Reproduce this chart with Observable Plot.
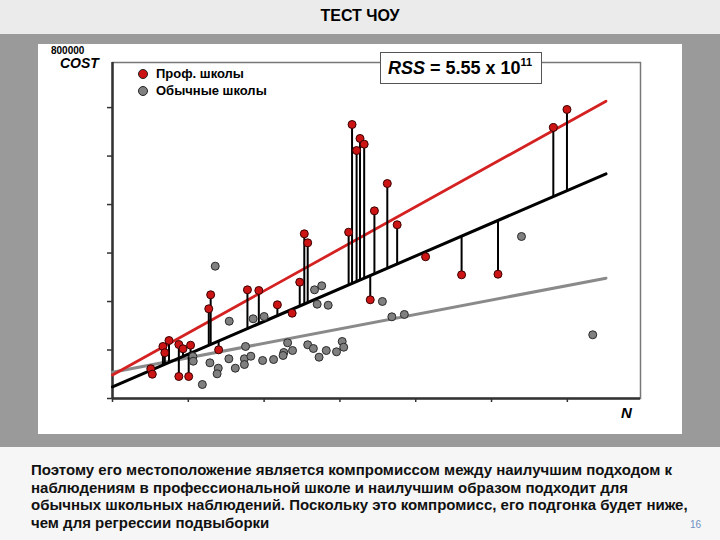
<!DOCTYPE html>
<html>
<head>
<meta charset="utf-8">
<script src="https://cdn.jsdelivr.net/npm/d3@7"></script>
<script src="https://cdn.jsdelivr.net/npm/@observablehq/plot@0.6"></script>
<style>
  html, body { margin: 0; padding: 0; }
  body { width: 720px; height: 540px; position: relative; overflow: hidden; background: #9a9a9a; font-family: "Liberation Sans", Arial, sans-serif; }
  .abs { position: absolute; }
  #titlebar { left: 0; top: 0; width: 720px; height: 34px; background: #ebebeb; text-align: center; font-weight: bold; font-size: 16px; line-height: 31px; color: #000; }
  #panel { left: 38px; top: 44px; width: 644px; height: 390px; background: #fff; }
  #bottom { left: 0; top: 447px; width: 720px; height: 93px; background: #f6f6f6; }
  #caption { left: 31px; top: 461px; width: 680px; font-weight: bold; font-size: 15px; line-height: 17.5px; color: #111; white-space: nowrap; }
  #pagenum { left: 690px; top: 519px; font-size: 10px; color: #6f8fc4; }
  #chart { left: 0; top: 0; }
  .legdot { width: 8px; height: 8px; border-radius: 50%; border: 1px solid #222; }
  .legtxt { font-weight: bold; font-size: 13px; color: #000; }
  #rss { left: 380px; top: 52px; width: 153px; height: 30px; background: #fff; border: 1.5px solid #555; font-weight: bold; font-size: 18px; line-height: 30px; color: #000; padding-left: 7px; box-sizing: content-box; }
  #rss sup { font-size: 11px; vertical-align: 0; position: relative; top: -8px; }
  #ylab { left: 60px; top: 56px; font-weight: bold; font-style: italic; font-size: 14px; line-height: 14px; color: #000; }
  #ytop { left: 51px; top: 46px; font-weight: bold; font-size: 10px; line-height: 10px; color: #000; }
  #xlab { left: 621px; top: 404px; font-weight: bold; font-style: italic; font-size: 15px; color: #000; }
</style>
</head>
<body>
<div id="titlebar" class="abs">ТЕСТ ЧОУ</div>
<div id="panel" class="abs"></div>
<div id="bottom" class="abs"></div>
<div id="chart" class="abs"></div>
<div id="ytop" class="abs">800000</div>
<div id="ylab" class="abs">COST</div>
<div id="xlab" class="abs">N</div>
<div class="abs legdot" style="left:138px;top:69px;background:#cc1414;"></div>
<div class="abs legtxt" style="left:156px;top:66px;">Проф. школы</div>
<div class="abs legdot" style="left:138px;top:86px;background:#808080;"></div>
<div class="abs legtxt" style="left:156px;top:83px;">Обычные школы</div>
<div id="rss" class="abs"><i>RSS</i> = 5.55 x 10<sup>11</sup></div>
<div id="caption" class="abs">Поэтому его местоположение является компромиссом между наилучшим подходом к<br>наблюдениям в профессиональной школе и наилучшим образом подходит для<br>обычных школьных наблюдений. Поскольку это компромисс, его подгонка будет ниже,<br>чем для регрессии подвыборки</div>
<div id="pagenum" class="abs">16</div>
<script>
// Occupational (professional) schools
const redN = [101,105,133,138,149,175,186,206,175,201,280,254,259,356,386,435,474,494,506,515,623,632,644,653,664,680,691,725,751,826,921,1017,1163,1199];
const redCost = [61300,50100,107300,94300,119600,111400,102500,109900,45400,45400,100400,185000,213900,224200,222800,193300,175900,239900,339700,321100,343000,565100,511500,536300,524500,203600,387100,443400,358300,292300,255100,256400,558900,596100];
// Regular schools
const grayN = [212,213,257,279,276,237,307,271,308,371,400,324,351,348,348,365,396,425,452,450,462,475,515,530,545,564,591,606,610,533,552,540,569,712,737,770,1079,1267];
const grayCost = [86600,76900,73600,62500,50900,28900,81900,272900,159400,164400,169100,62500,107300,81900,70100,87200,78400,80400,94900,88700,114900,99000,110800,103100,85200,99000,96300,117600,105800,224200,232400,194500,192400,200100,168500,173300,334100,131400];
// Fitted regression lines (endpoints)
const fitN = [0, 1302];
const profFit = [48500, 613200];
const pooledFit = [24100, 463400];
const regularFit = [54200, 248100];
// Axis ticks
const xTicks = [0, 200, 400, 600, 800, 1000, 1200];
const yTicks = [0, 100000, 200000, 300000, 400000, 500000, 600000];

const red = redN.map((n, i) => ({n, cost: redCost[i]}));
const gray = grayN.map((n, i) => ({n, cost: grayCost[i]}));
const line = (ys) => fitN.map((n, i) => ({n, cost: ys[i]}));
const pooledAt = n => pooledFit[0] + (pooledFit[1] - pooledFit[0]) * (n - fitN[0]) / (fitN[1] - fitN[0]);

const chart = Plot.plot({
  width: 720,
  height: 540,
  marginLeft: 112,
  marginRight: 80,
  marginTop: 62,
  marginBottom: 142,
  style: {background: "transparent"},
  x: {domain: [0, 1393]},
  y: {domain: [0, 693000]},
  marks: [
    Plot.frame({stroke: "#777", strokeWidth: 1.5}),
    Plot.axisX({ticks: xTicks, tickSize: 4, tickFormat: () => "", label: null, stroke: "#333", strokeWidth: 1.5}),
    Plot.axisY({ticks: yTicks, tickSize: 5, tickFormat: () => "", label: null, stroke: "#333", strokeWidth: 1.5}),
    Plot.ruleX([0], {stroke: "#333", strokeWidth: 2.5}),
    Plot.ruleY([0], {stroke: "#333", strokeWidth: 2.5}),
    Plot.line(line(regularFit), {x: "n", y: "cost", stroke: "#8a8a8a", strokeWidth: 3}),
    Plot.line(line(profFit), {x: "n", y: "cost", stroke: "#d42222", strokeWidth: 2.8}),
    Plot.line(line(pooledFit), {x: "n", y: "cost", stroke: "#000", strokeWidth: 3}),
    Plot.ruleX(red, {x: "n", y1: "cost", y2: d => pooledAt(d.n), stroke: "#000", strokeWidth: 2}),
    Plot.dot(gray, {x: "n", y: "cost", r: 4, fill: "#808080", stroke: "#2a2a2a", strokeWidth: 1}),
    Plot.dot(red, {x: "n", y: "cost", r: 4, fill: "#cc1414", stroke: "#3a0000", strokeWidth: 1})
  ]
});
document.getElementById("chart").appendChild(chart);
</script>
</body>
</html>
